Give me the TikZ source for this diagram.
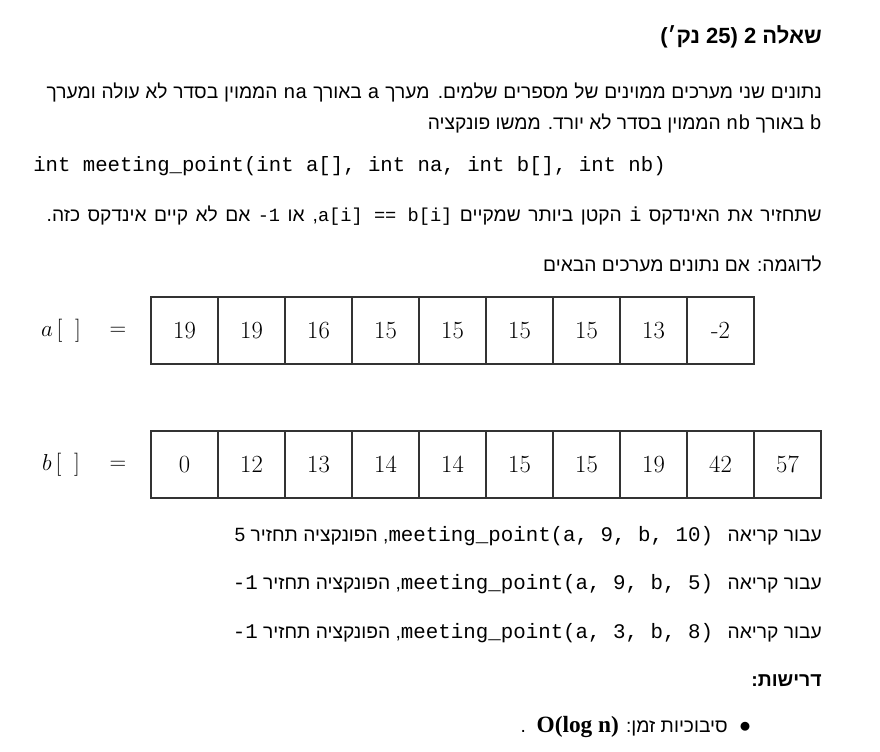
\documentclass[tikz,border=0pt]{standalone}
\usepackage{fontspec}
\newfontfamily\heb[Script=Hebrew]{Liberation Sans}
\newfontfamily\mono{Liberation Mono}
\newfontfamily\tms{Liberation Serif}
\TeXXeTstate=1
\newcommand{\rtl}[1]{\beginR#1\endR}
\newcommand{\ltr}[1]{{\beginL#1\endL}}
\newcommand{\code}[2][15.2]{{\mono\fontsize{#1}{18}\selectfont#2}}
\newcommand{\fullline}[1]{\hbox to 581.25pt{\rtl{#1}}}
\tikzset{
  line/.style={anchor=east,inner sep=0pt,font=\heb\fontsize{14.4}{17}\selectfont},
  cell/.style={draw=black!80,line width=1.1pt,minimum width=50.25pt,minimum height=50.25pt,inner sep=0pt,font=\fontsize{18.5}{22}\selectfont},
  lbl/.style={inner sep=0pt,font=\fontsize{18.5}{22}\selectfont},
}
\begin{document}
\begin{tikzpicture}[x=0.75pt,y=-0.75pt]
\useasboundingbox (0,0) rectangle (880,751);
% header and text
\node[line,font=\heb\bfseries\fontsize{16.5}{19}\selectfont] (title) at (822,37) {\rtl{שאלה 2 (25 נק׳)}};
\node[line] (t1) at (822,92) {\fullline{נתונים שני מערכים ממוינים של מספרים שלמים. מערך \code{a} באורך \code{na} הממוין בסדר לא עולה ומערך}};
\node[line] (t2) at (822,123) {\rtl{\code{b} באורך \code{nb} הממוין בסדר לא יורד. ממשו פונקציה}};
\node[anchor=west,inner sep=0pt,font=\mono\fontsize{15.5}{18}\selectfont] (sig) at (33,166) {int meeting\_point(int a[], int na, int b[], int nb)};
\node[line] (t3) at (822,216) {\fullline{שתחזיר את האינדקס \code{i} הקטן ביותר שמקיים \ltr{\hbox{\code[14]{a[i]~==~b[i]}}}, או \ltr{\code[14]{-1}} אם לא קיים אינדקס כזה.}};
\node[line] (t4) at (822,264) {\rtl{לדוגמה: אם נתונים מערכים הבאים}};
% arrays
\node[lbl] (la) at (61,331) {$a\,[\;\;]$};
\node[lbl] (ea) at (118,331) {$=$};
\foreach \v [count=\i] in {19,19,16,15,15,15,15,13,-2}
  \node[cell] (a\i) at (117.5+67*\i,330.5) {\v};
\node[lbl] (lb) at (61,465) {$b\,[\;\;]$};
\node[lbl] (eb) at (118,465) {$=$};
\foreach \v [count=\i] in {0,12,13,14,14,15,15,19,42,57}
  \node[cell] (b\i) at (117.5+67*\i,464.5) {\v};
% calls
\node[line] (c1) at (822,536) {\rtl{עבור קריאה\hskip 11pt\ltr{\code[15.6]{meeting\_point(a, 9, b, 10)}}, הפונקציה תחזיר 5}};
\node[line] (c2) at (822,584) {\rtl{עבור קריאה\hskip 11pt\ltr{\code[15.6]{meeting\_point(a, 9, b, 5)}}, הפונקציה תחזיר \ltr{\code[15.6]{-1}}}};
\node[line] (c3) at (822,633) {\rtl{עבור קריאה\hskip 11pt\ltr{\code[15.6]{meeting\_point(a, 3, b, 8)}}, הפונקציה תחזיר \ltr{\code[15.6]{-1}}}};
% requirements
\node[line,font=\heb\bfseries\fontsize{14.6}{17}\selectfont] (req) at (822,681) {\rtl{דרישות:}};
\node[lbl] (dot) at (745,727) {$\bullet$};
\node[line] (cx) at (728,727) {\rtl{סיבוכיות זמן: \ltr{\tms\bfseries\fontsize{17.5}{20}\selectfont O(log n)}\ \ .}};
\end{tikzpicture}
\end{document}
